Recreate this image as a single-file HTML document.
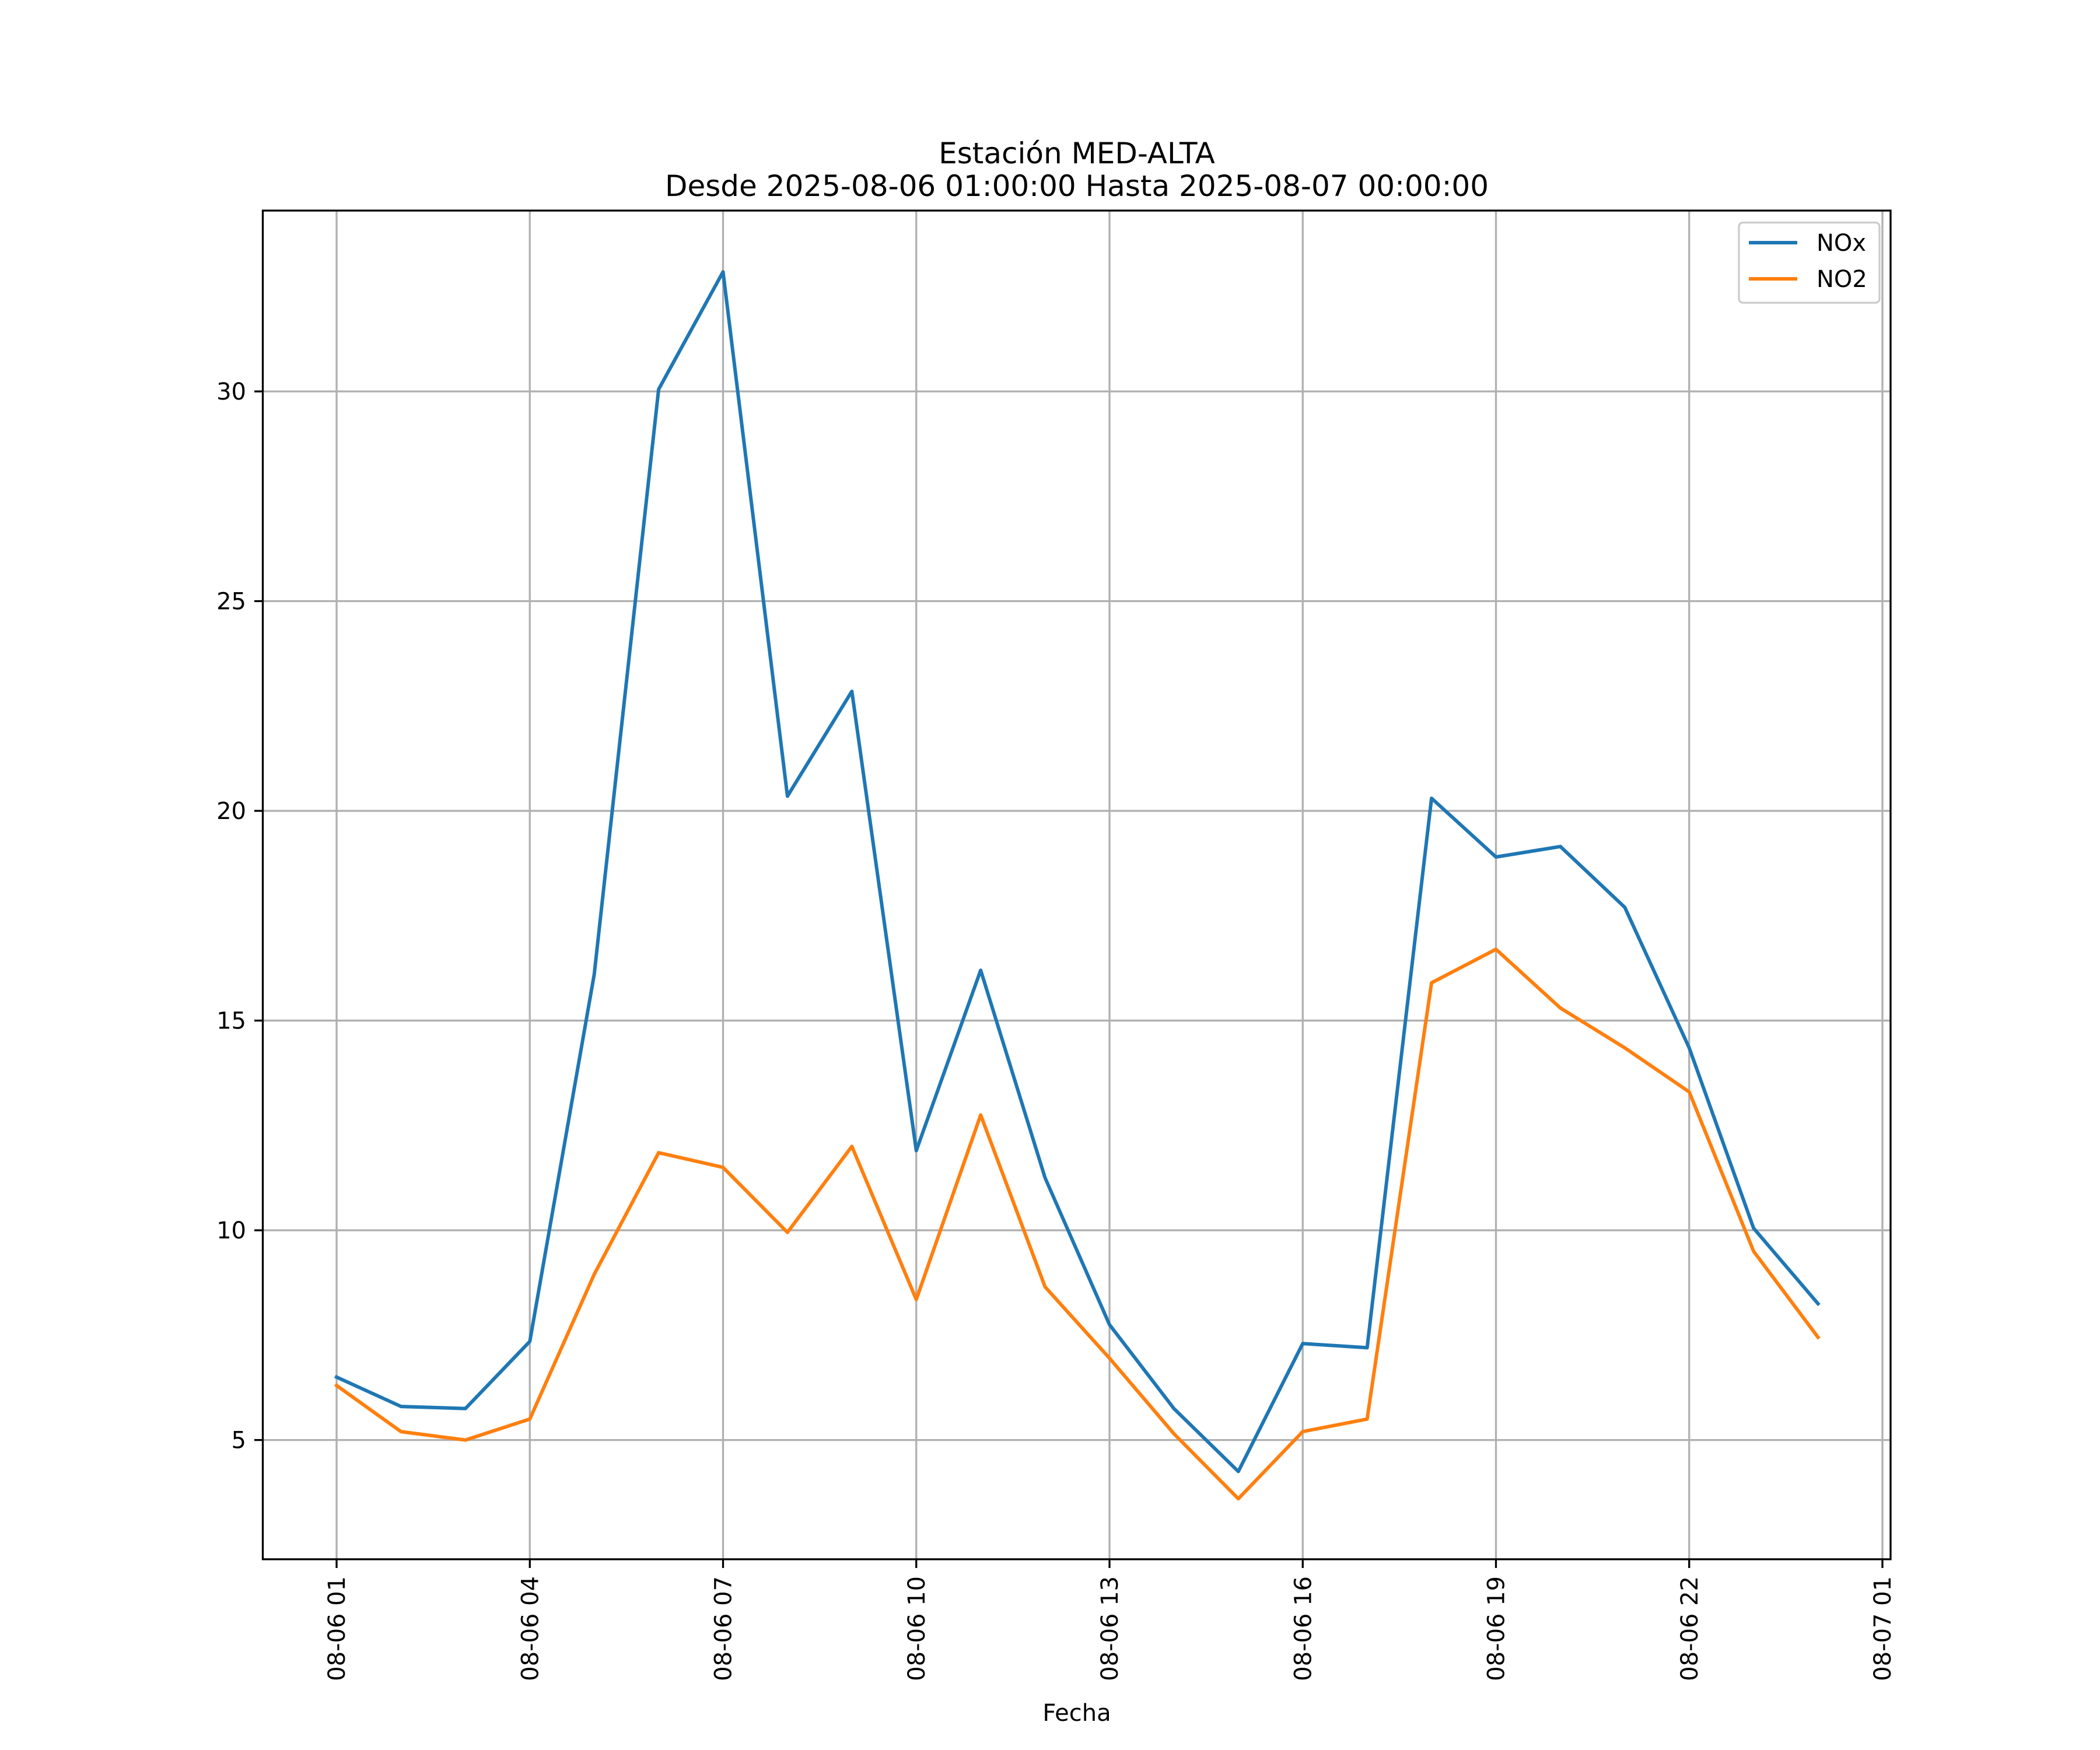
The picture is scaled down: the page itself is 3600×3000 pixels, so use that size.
<!DOCTYPE html>
<html><head><meta charset="utf-8"><style>
html,body{margin:0;padding:0;background:#fff}
svg{display:block;font-family:"DejaVu Sans","Liberation Sans",sans-serif}
</style></head><body>
<svg id="chart" width="3600" height="3000" viewBox="0 0 3600 3000">
<rect width="3600" height="3000" fill="#fff"/>
<g id="grid"></g>
<g id="series"></g>
<rect x="450.5" y="361" width="2790.5" height="2312" fill="none" stroke="#000" stroke-width="3.3"/>
<g id="axes"></g>
<text x="1846" y="280" text-anchor="middle" font-size="50">Estación MED-ALTA</text>
<text x="1846" y="336" text-anchor="middle" font-size="50">Desde 2025-08-06 01:00:00 Hasta 2025-08-07 00:00:00</text>
<text x="1846" y="2950" text-anchor="middle" font-size="40">Fecha</text>
<g>
<rect x="2981" y="381.5" width="241" height="137.5" fill="#fff" fill-opacity="0.8" stroke="#ccc" stroke-width="3.3" rx="7"/>
<line x1="2998" y1="416" x2="3081" y2="416" stroke="#1f77b4" stroke-width="6"/>
<text x="3114" y="430" font-size="40">NOx</text>
<line x1="2998" y1="478" x2="3081" y2="478" stroke="#ff7f0e" stroke-width="6"/>
<text x="3114" y="492" font-size="40">NO2</text>
</g>
</svg>
<script>
const hours = [1,2,3,4,5,6,7,8,9,10,11,12,13,14,15,16,17,18,19,20,21,22,23,24];
const noxValues = [6.5,5.8,5.75,7.35,16.1,30.05,32.85,20.35,22.85,11.9,16.2,11.25,7.75,5.75,4.25,7.3,7.2,20.3,18.9,19.15,17.7,14.35,10.05,8.25];
const no2Values = [6.3,5.2,5.0,5.5,8.95,11.85,11.5,9.95,12.0,8.35,12.75,8.65,6.95,5.15,3.6,5.2,5.5,15.9,16.7,15.3,14.35,13.3,9.5,7.45];
const yTicks = [5,10,15,20,25,30];
const xTickHours = [1,4,7,10,13,16,19,22,25];
const xTickLabels = ["08-06 01","08-06 04","08-06 07","08-06 10","08-06 13","08-06 16","08-06 19","08-06 22","08-07 01"];

const NS="http://www.w3.org/2000/svg";
function xs(h){return 577+(h-1)*(3227-577)/24;}
function ys(v){return 2468.6-(v-5)*(2468.6-671)/25;}
function mk(tag,attrs,parent){const e=document.createElementNS(NS,tag);for(const k in attrs)e.setAttribute(k,attrs[k]);parent.appendChild(e);return e;}
const grid=document.getElementById('grid'),axes=document.getElementById('axes'),series=document.getElementById('series');
yTicks.forEach(t=>{
  const y=ys(t);
  const g=mk('line',{x1:450.5,x2:3241,y1:y,y2:y,stroke:'#b0b0b0','stroke-width':3.3},grid);
  
  
  const tk=mk('line',{x1:436,x2:450.5,y1:y,y2:y,stroke:'#000','stroke-width':3.3},axes);
  
  
  const tx=mk('text',{x:422,y:y+14,'text-anchor':'end','font-size':40},axes);
  tx.textContent=t;
  
  
});
xTickHours.forEach((h,i)=>{
  const x=xs(h);
  const g=mk('line',{x1:x,x2:x,y1:361,y2:2673,stroke:'#b0b0b0','stroke-width':3.3},grid);
  
  
  const tk=mk('line',{x1:x,x2:x,y1:2673,y2:2688,stroke:'#000','stroke-width':3.3},axes);
  
  
  const tx=mk('text',{x:0,y:0,'text-anchor':'end','font-size':40,transform:`translate(${x+14},2702) rotate(-90)`},axes);
  tx.textContent=xTickLabels[i];
  
  
});
function line(vals,color,name){
  const p=mk('polyline',{points:vals.map((v,i)=>xs(hours[i])+','+ys(v)).join(' '),fill:'none',stroke:color,'stroke-width':6,'stroke-linejoin':'round','stroke-linecap':'square'},series);
  
  
}
line(noxValues,'#1f77b4','nox-line');
line(no2Values,'#ff7f0e','no2-line');
</script>
</body></html>
